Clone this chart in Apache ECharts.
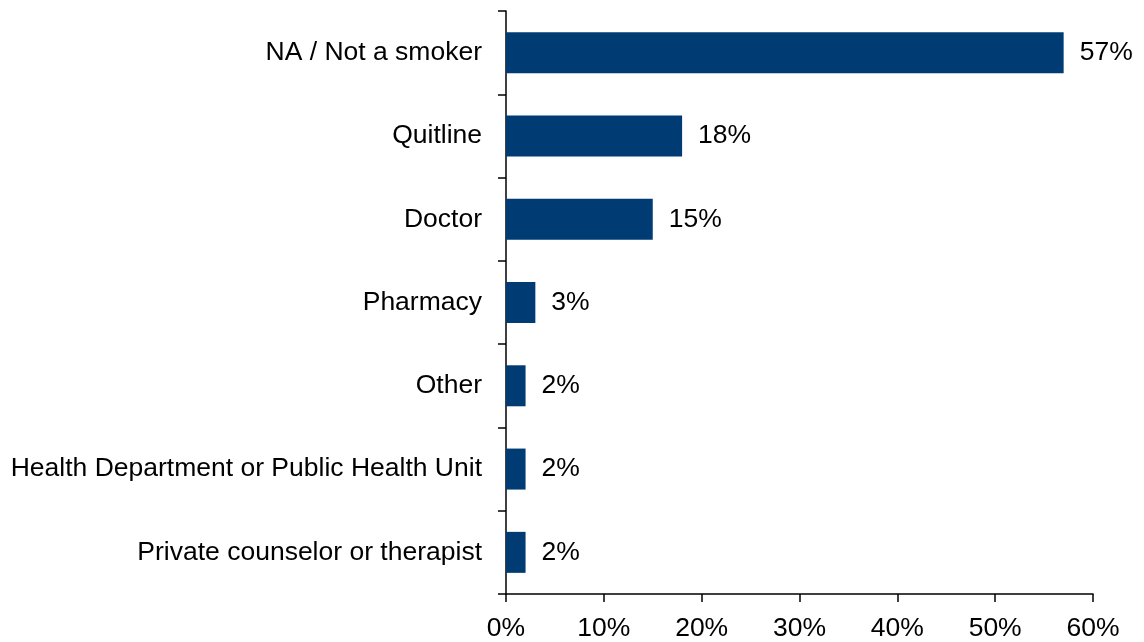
<!DOCTYPE html>
<html><head><meta charset="utf-8">
<script src="https://cdn.jsdelivr.net/npm/echarts@6/dist/echarts.min.js"></script>
<style>html,body{margin:0;padding:0;background:#fff}#c{width:1144px;height:642px}</style>
</head><body><div id="c"></div>
<script>
const categories = ["NA / Not a smoker","Quitline","Doctor","Pharmacy","Other","Health Department or Public Health Unit","Private counselor or therapist"];
const values = [57,18,15,3,2,2,2];
const xTicks = [0,10,20,30,40,50,60];

const chart = echarts.init(document.getElementById('c'), null, {renderer:'canvas'});
const font = "'Liberation Sans', Arial, sans-serif";
chart.setOption({
  animation:false,
  grid:{left:506,right:51,top:11,bottom:48,containLabel:false},
  xAxis:{type:'value',min:xTicks[0],max:xTicks[xTicks.length-1],interval:10,
    axisLine:{show:true,lineStyle:{color:'#000',width:1.5}},
    axisTick:{show:true,length:8,inside:false,lineStyle:{color:'#000',width:1.5}},
    splitLine:{show:false},
    axisLabel:{formatter:v=>v+'%',color:'#000',fontSize:26.5,fontFamily:font,margin:21}},
  yAxis:{type:'category',data:categories,inverse:true,
    axisLine:{show:true,lineStyle:{color:'#000',width:1.5}},
    axisTick:{show:true,length:8,alignWithLabel:false,lineStyle:{color:'#000',width:1.5}},
    axisLabel:{color:'#000',fontSize:26.5,fontFamily:font,margin:24,padding:[4,0,0,0]}},
  series:[{type:'bar',data:values,barWidth:41,itemStyle:{color:'#003B73'},
    label:{show:true,position:'right',distance:16,padding:[4,0,0,0],formatter:p=>p.value+'%',color:'#000',fontSize:26.5,fontFamily:font}}]
});
</script></body></html>
